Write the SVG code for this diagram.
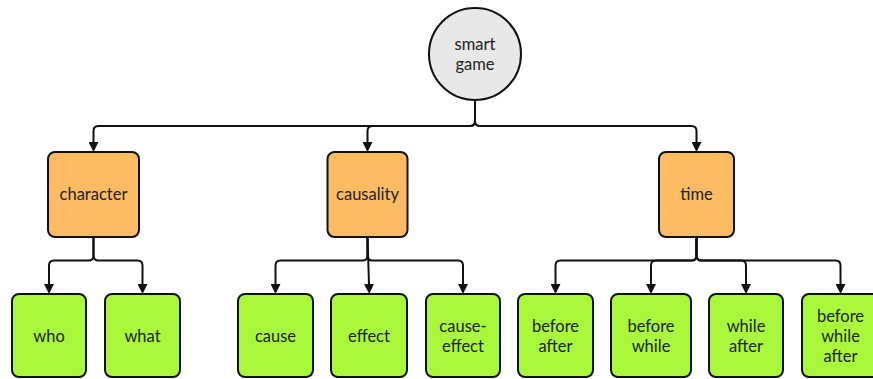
<svg xmlns="http://www.w3.org/2000/svg" width="873" height="379" viewBox="0 0 873 379">
<style>
.lbl{font-family:Lato,"Open Sans","Liberation Sans",sans-serif;font-size:16.5px;fill:#222;text-anchor:middle}
.root{fill:#e8e8e8;stroke:#111;stroke-width:2}
.cat{fill:#fdbc64;stroke:#111;stroke-width:2}
.leaf{fill:#a9f83c;stroke:#111;stroke-width:2}
.edge{fill:none;stroke:#111;stroke-width:2;marker-end:url(#arr)}
</style>
<defs>
<marker id="arr" markerUnits="userSpaceOnUse" markerWidth="10" markerHeight="10" refX="0" refY="5" orient="auto" viewBox="0 0 10 10">
<path d="M0,0 L10,5 L0,10 z" fill="#111"/>
</marker>
</defs>
<g id="connectors">
<path class="edge" d="M475,100 V121 Q475,126 470,126 H98.5 Q93.5,126 93.5,131 V142"/>
<path class="edge" d="M475,100 V121 Q475,126 470,126 H372.5 Q367.5,126 367.5,131 V142"/>
<path class="edge" d="M475,100 V121 Q475,126 480,126 H691.5 Q696.5,126 696.5,131 V142"/>
<path class="edge" d="M93.5,237 V255.5 Q93.5,260.5 88.5,260.5 H54 Q49,260.5 49,265.5 V284"/>
<path class="edge" d="M93.5,237 V255.5 Q93.5,260.5 98.5,260.5 H137.5 Q142.5,260.5 142.5,265.5 V284"/>
<path class="edge" d="M367.5,237 V255.5 Q367.5,260.5 362.5,260.5 H280.5 Q275.5,260.5 275.5,265.5 V284"/>
<path class="edge" d="M367.5,237 L369,284"/>
<path class="edge" d="M367.5,237 V255.5 Q367.5,260.5 372.5,260.5 H458 Q463,260.5 463,265.5 V284"/>
<path class="edge" d="M696.5,237 V255.5 Q696.5,260.5 691.5,260.5 H560.5 Q555.5,260.5 555.5,265.5 V284"/>
<path class="edge" d="M696.5,237 V255.5 Q696.5,260.5 691.5,260.5 H656 Q651,260.5 651,265.5 V284"/>
<path class="edge" d="M696.5,237 V255.5 Q696.5,260.5 701.5,260.5 H741 Q746,260.5 746,265.5 V284"/>
<path class="edge" d="M696.5,237 V255.5 Q696.5,260.5 701.5,260.5 H835.5 Q840.5,260.5 840.5,265.5 V284"/>
</g>
<g id="smart-game">
<circle class="root" cx="475" cy="54" r="46"/>
<text class="lbl" x="475" y="49.5">smart</text>
<text class="lbl" x="475" y="69.5">game</text>
</g>
<g id="character">
<rect class="cat" x="48" y="152" width="91" height="85" rx="7"/>
<text class="lbl" x="93.5" y="200">character</text>
</g>
<g id="causality">
<rect class="cat" x="327.5" y="152" width="80" height="85" rx="7"/>
<text class="lbl" x="367.5" y="200">causality</text>
</g>
<g id="time">
<rect class="cat" x="659" y="152" width="75" height="85" rx="7"/>
<text class="lbl" x="696.5" y="200">time</text>
</g>
<g id="who">
<rect class="leaf" x="12" y="294" width="74" height="83" rx="7"/>
<text class="lbl" x="49" y="341.5">who</text>
</g>
<g id="what">
<rect class="leaf" x="105" y="294" width="75" height="83" rx="7"/>
<text class="lbl" x="142.5" y="341.5">what</text>
</g>
<g id="cause">
<rect class="leaf" x="238" y="294" width="75" height="83" rx="7"/>
<text class="lbl" x="275.5" y="341.5">cause</text>
</g>
<g id="effect">
<rect class="leaf" x="331" y="294" width="76" height="83" rx="7"/>
<text class="lbl" x="369" y="341.5">effect</text>
</g>
<g id="cause-effect">
<rect class="leaf" x="426" y="294" width="74" height="83" rx="7"/>
<text class="lbl" x="463" y="331.5">cause-</text>
<text class="lbl" x="463" y="351.5">effect</text>
</g>
<g id="before-after">
<rect class="leaf" x="518" y="294" width="75" height="83" rx="7"/>
<text class="lbl" x="555.5" y="331.5">before</text>
<text class="lbl" x="555.5" y="351.5">after</text>
</g>
<g id="before-while">
<rect class="leaf" x="611" y="294" width="80" height="83" rx="7"/>
<text class="lbl" x="651" y="331.5">before</text>
<text class="lbl" x="651" y="351.5">while</text>
</g>
<g id="while-after">
<rect class="leaf" x="709" y="294" width="74" height="83" rx="7"/>
<text class="lbl" x="746" y="331.5">while</text>
<text class="lbl" x="746" y="351.5">after</text>
</g>
<g id="before-while-after">
<rect class="leaf" x="802" y="294" width="77" height="83" rx="7"/>
<text class="lbl" x="840.5" y="321.5">before</text>
<text class="lbl" x="840.5" y="341.5">while</text>
<text class="lbl" x="840.5" y="361.5">after</text>
</g>
</svg>
